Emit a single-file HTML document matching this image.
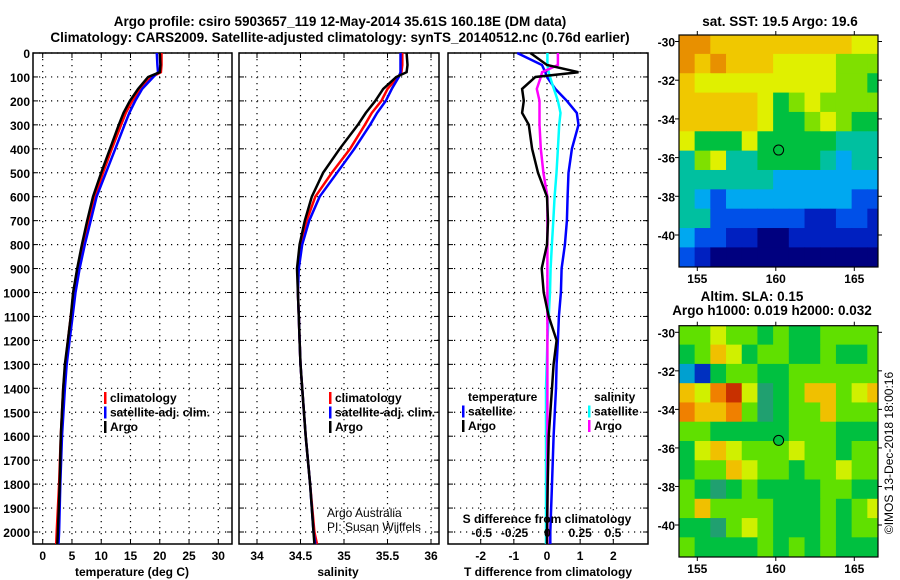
<!DOCTYPE html>
<html><head><meta charset="utf-8"><style>
html,body{margin:0;padding:0;background:#fff;}
svg{display:block;font-family:"Liberation Sans",Arial,sans-serif;}
.t{font-weight:bold;font-size:13.5px;}
.tk{font-weight:bold;font-size:12px;}
</style></head><body>
<svg id="c" width="900" height="580" viewBox="0 0 900 580">
<text class="t" x="340" y="26" text-anchor="middle">Argo profile: csiro 5903657_119 12-May-2014 35.61S 160.18E (DM data)</text>
<text class="t" x="340" y="42" text-anchor="middle">Climatology: CARS2009. Satellite-adjusted climatology: synTS_20140512.nc (0.76d earlier)</text>
<text class="t" x="780" y="26" text-anchor="middle">sat. SST: 19.5 Argo: 19.6</text>
<text class="t" x="752" y="301" text-anchor="middle" font-size="12">Altim. SLA: 0.15</text>
<text class="t" x="772" y="315" text-anchor="middle" font-size="12">Argo h1000: 0.019 h2000: 0.032</text>
<text x="893" y="453" font-size="12" transform="rotate(-90 893 453)" text-anchor="middle">©IMOS 13-Dec-2018 18:00:16</text>
<text x="327" y="517" font-size="12">Argo Australia</text>
<text x="327" y="531" font-size="12">PI: Susan Wijffels</text>
</svg>
<script>
// ---- data ----
const depths=[0,50,80,100,150,200,250,300,400,500,600,700,800,900,1000,1100,1200,1300,1400,1600,1800,2000,2050];
const tempArgo=[20.0,20.1,20.0,18.0,16.3,14.9,13.8,13.0,11.5,10.0,8.6,7.6,6.7,5.9,5.2,4.8,4.3,3.8,3.5,3.1,2.9,2.6,2.5];
const tempClim=[20.3,20.3,20.2,18.6,16.6,15.3,14.2,13.4,11.8,10.3,8.9,7.8,6.9,6.0,5.3,4.8,4.3,3.9,3.5,3.1,2.8,2.4,2.3];
const tempSat=[19.5,19.6,19.7,18.9,17.0,15.8,14.8,14.0,12.4,10.8,9.2,8.2,7.2,6.3,5.6,5.1,4.6,4.1,3.8,3.3,3.0,2.8,2.7];
const salArgo=[35.72,35.73,35.72,35.6,35.45,35.36,35.25,35.16,34.95,34.76,34.63,34.55,34.49,34.46,34.47,34.48,34.49,34.5,34.52,34.56,34.61,34.65,34.66];
const salClim=[35.67,35.67,35.66,35.62,35.5,35.43,35.32,35.24,35.07,34.86,34.67,34.57,34.5,34.47,34.47,34.48,34.49,34.5,34.52,34.56,34.61,34.66,34.69];
const salSat=[35.65,35.65,35.65,35.63,35.55,35.48,35.38,35.3,35.12,34.92,34.72,34.6,34.52,34.48,34.47,34.48,34.49,34.5,34.52,34.56,34.61,34.65,34.67];
const dTsat=[-0.9,-0.15,-0.05,0,0.25,0.6,0.9,0.95,0.75,0.65,0.62,0.6,0.54,0.44,0.42,0.36,0.33,0.29,0.27,0.2,0.15,0.1,0.1];
const dTargo=[-0.5,0,0.95,-0.35,-0.75,-0.7,-0.75,-0.55,-0.45,-0.27,0,0.03,0,-0.16,-0.1,0.05,0.29,0.2,0.15,0.05,0.02,0,0];
const dSsat=[0,0,0.01,0.02,0.05,0.08,0.1,0.09,0.08,0.07,0.055,0.045,0.035,0.025,0.02,0.01,0,-0.005,-0.01,-0.01,-0.01,-0.01,-0.01];
const dSargo=[0.08,0.08,-0.04,-0.05,-0.08,-0.06,-0.06,-0.06,-0.05,-0.03,0,0,0,0,0,0,0,0,0,0,0,0,0];
const depthTicks=[0,100,200,300,400,500,600,700,800,900,1000,1100,1200,1300,1400,1500,1600,1700,1800,1900,2000];
const tempTicks=[0,5,10,15,20,25,30];
const salTicks=[34,34.5,35,35.5,36];
const dTTicks=[-2,-1,0,1,2];
const dSTicks=[-0.5,-0.25,0,0.25,0.5];
const lonTicks=[155,160,165];
const latTicks=[-30,-32,-34,-36,-38,-40];
const sstGrid=[
[9,9,8,8,8,8,8,8,8,8,8,7,7],
[9,8,9,8,8,8,7,7,7,7,6,6,6],
[8,7,7,7,7,7,7,7,7,7,6,6,5],
[8,8,8,8,8,7,5,6,7,6,6,6,6],
[8,8,8,8,8,7,5,5,6,7,6,5,5],
[7,5,5,5,7,5,5,5,5,5,4,4,4],
[4,6,7,4,4,5,5,5,5,4,3,4,4],
[4,4,4,4,4,4,3,3,3,3,3,3,3],
[4,3,2,3,3,3,3,3,3,3,3,2,2],
[4,4,2,2,2,2,2,2,1,1,2,2,1],
[3,2,2,1,1,0,0,1,1,1,1,1,1],
[2,1,0,0,0,0,0,0,0,0,0,0,0]];
const slaGrid=[
[4,4,5,4,4,3,4,3,3,4,4,4,4],
[3,4,6,5,3,4,4,3,3,4,3,3,4],
[1,0,3,4,4,3,3,4,4,4,4,4,4],
[6,5,7,8,5,2,3,4,6,6,4,5,6],
[7,6,6,7,4,2,3,4,4,6,4,4,4],
[4,4,3,3,3,3,3,4,4,4,3,3,3],
[3,5,6,5,4,4,4,5,4,4,3,4,4],
[3,4,4,6,5,4,4,3,4,4,5,4,4],
[4,3,2,3,4,3,3,3,3,4,4,3,3],
[4,6,4,4,4,4,3,3,3,4,3,4,5],
[3,3,2,4,5,4,3,3,3,4,3,4,4],
[4,3,3,3,3,4,3,4,3,4,3,3,3]];
const floatLon=160.18, floatLat=-35.61;

// ---- drawing ----
const NS="http://www.w3.org/2000/svg";
const svg=document.getElementById('c');
function mk(tag,at,parent){const e=document.createElementNS(NS,tag);for(const k in at)e.setAttribute(k,at[k]);(parent||svg).appendChild(e);return e;}
const Y0=53,Y1=544;
const yD=d=>Y0+d*0.2395;
function lin(d0,d1,r0,r1){return v=>r0+(v-d0)*(r1-r0)/(d1-d0);}

function panel(name,x0,x1,xs,xticks,fmt){
  const g=mk('g',{});
  
  
  depthTicks.forEach(d=>{const l=mk('line',{x1:x0,x2:x1,y1:yD(d),y2:yD(d),stroke:'#000','stroke-width':1.2,'stroke-dasharray':'1.2 4.8'},g);
    
    mk('line',{x1:x0,x2:x0+5,y1:yD(d),y2:yD(d),stroke:'#000'},g);mk('line',{x1:x1-5,x2:x1,y1:yD(d),y2:yD(d),stroke:'#000'},g);});
  xticks.forEach(v=>{const x=xs(v);const l=mk('line',{x1:x,x2:x,y1:Y0,y2:Y1,stroke:'#000','stroke-width':1.2,'stroke-dasharray':'1.2 4.8'},g);
    
    mk('line',{x1:x,x2:x,y1:Y1,y2:Y1-5,stroke:'#000'},g);mk('line',{x1:x,x2:x,y1:Y0,y2:Y0+5,stroke:'#000'},g);
    if(fmt){const t=mk('text',{x:x,y:Y1+16,'text-anchor':'middle',class:'tk'},g);t.textContent=fmt(v);
      }});
  const r=mk('rect',{x:x0,y:Y0,width:x1-x0,height:Y1-Y0,fill:'none',stroke:'#000','stroke-width':1.5},g);
  
  return g;
}
function series(g,name,vals,xs,color){
  const pts=vals.map((v,i)=>xs(v).toFixed(1)+','+yD(depths[i]).toFixed(1)).join(' ');
  const p=mk('polyline',{points:pts,fill:'none',stroke:color,'stroke-width':2.5,'stroke-linejoin':'miter'},g);
  
  
}
function txt(s,x,y,at,g){const t=mk('text',Object.assign({x:x,y:y},at||{}),g);t.textContent=s;return t;}

// panel 1
const xT=lin(0,30,42.7,218.3);
const p1=panel('temperature-panel',33,232,xT,tempTicks,v=>v);
depthTicks.forEach(d=>{const t=txt(d,30,yD(d)+5,{'text-anchor':'end',class:'tk'},p1);
  });
series(p1,'temp-climatology-line',tempClim,xT,'#f00');
series(p1,'temp-satellite-line',tempSat,xT,'#00f');
series(p1,'temp-argo-line',tempArgo,xT,'#000');
let t=txt('temperature (deg C)',132,576,{'text-anchor':'middle',class:'tk'});


// panel 2
const xS=lin(34,36,257,431);
const p2=panel('salinity-panel',239,439,xS,salTicks,v=>v);
series(p2,'sal-climatology-line',salClim,xS,'#f00');
series(p2,'sal-satellite-line',salSat,xS,'#00f');
series(p2,'sal-argo-line',salArgo,xS,'#000');
t=txt('salinity',338,576,{'text-anchor':'middle',class:'tk'});


// panel 3
const xDT=lin(-2,2,480.7,613.3);
const xDS=lin(-0.5,0.5,481.7,613);
const p3=panel('difference-panel',448,648,xDT,dTTicks,v=>v);
series(p3,'dT-satellite-line',dTsat,xDT,'#00f');
series(p3,'dS-satellite-line',dSsat,xDS,'#0ff');
series(p3,'dS-argo-line',dSargo,xDS,'#f0f');
series(p3,'dT-argo-line',dTargo,xDT,'#000');
dSTicks.forEach(v=>{const tt=txt(String(v),xDS(v),537,{'text-anchor':'middle',class:'tk'},p3);
  });
t=txt('S difference from climatology',547,523,{'text-anchor':'middle',class:'tk'},p3);

t=txt('T difference from climatology',548,576,{'text-anchor':'middle',class:'tk'});


// legends
function legend(g,x,y,items){
  items.forEach((it,i)=>{const yy=y+i*14.5;
    if(it[1]){const m=mk('rect',{x:x,y:yy-10,width:2.5,height:12,fill:it[1]},g);
      }
    const tt=txt(it[0],x+6,yy,{class:'tk'},g);
    });
}
legend(p1,104,402,[['climatology','#f00'],['satellite-adj. clim.','#00f'],['Argo','#000']]);
legend(p2,329,402,[['climatology','#f00'],['satellite-adj. clim.','#00f'],['Argo','#000']]);
legend(p3,462,401,[['temperature',null],['satellite','#00f'],['Argo','#000']]);
legend(p3,588,401,[['salinity',null],['satellite','#0ff'],['Argo','#f0f']]);

// maps
const sstColors=['#00007f','#0020c0','#0050e8','#00a8f0','#00c0a0','#00c040','#7fe000','#e0f000','#f0c800','#e89000'];
const slaColors=['#0030c0','#00a0d0','#20a070','#00c040','#60e000','#d0f000','#f0c000','#f08000','#c83000','#901000'];
function map(name,grid,colors,top,bot){
  const g=mk('g',{});
  
  
  const L=679,R=878;
  const xL=lin(155,165,697.3,854.3);
  const yL=lin(-30,-40,top+ (name==='sst-map'?6.5:6.6),top+(name==='sst-map'?200:199.3));
  const lon0=153.83,lat0=-29.64;
  grid.forEach((row,r)=>row.forEach((v,c)=>{
    const xa=Math.max(L,xL(lon0+c)),xb=Math.min(R,xL(lon0+c+1));
    const ya=Math.max(top,yL(lat0-r)),yb=Math.min(bot,yL(lat0-r-1));
    const cell=mk('rect',{x:xa,y:ya,width:xb-xa+0.5,height:yb-ya+0.5,fill:colors[v]},g);
    
    
  }));
  const fr=mk('rect',{x:L,y:top,width:R-L,height:bot-top,fill:'none',stroke:'#000','stroke-width':1.2},g);
  
  lonTicks.forEach(v=>{const x=xL(v);mk('line',{x1:x,x2:x,y1:bot,y2:bot+4,stroke:'#000'},g);mk('line',{x1:x,x2:x,y1:top,y2:top-4,stroke:'#000'},g);
    const tt=txt(v,x,bot+16,{'text-anchor':'middle',class:'tk'},g);});
  latTicks.forEach(v=>{const y=yL(v);mk('line',{x1:L-4,x2:L,y1:y,y2:y,stroke:'#000'},g);mk('line',{x1:R,x2:R+4,y1:y,y2:y,stroke:'#000'},g);
    const tt=txt(v,L-4,y+5,{'text-anchor':'end',class:'tk'},g);});
  const fm=mk('circle',{cx:xL(floatLon),cy:yL(floatLat),r:5,fill:name==='sst-map'?'none':'#00c040',stroke:'#000','stroke-width':1},g);
  
}
map('sst-map',sstGrid,sstColors,35,267);
map('sla-map',slaGrid,slaColors,325.7,557);
</script>
</body></html>
